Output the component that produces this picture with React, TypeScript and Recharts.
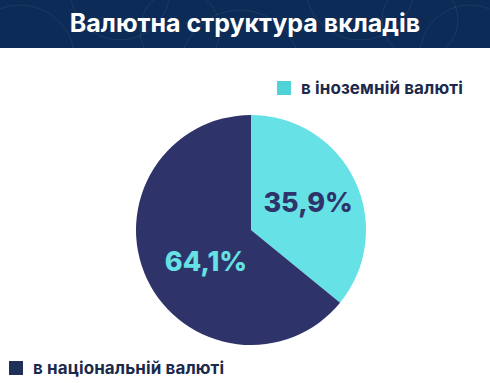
import React from "react";
import { PieChart, Pie, Cell, Legend } from "recharts";

const categories = ["в іноземній валюті", "в національній валюті"];
const shares = [35.9, 64.1];
const shareLabels = ["35,9%", "64,1%"];

const COLORS = ["#66e1e5", "#2e3469"];
const LABEL_COLORS = ["#2e3469", "#66e1e5"];
const LEGEND_COLORS = ["#4fd3d6", "#1f3158"];
const TITLE = "Валютна структура вкладів";

const data = categories.map((name, i) => ({ name, value: shares[i] }));

// label placement per slice: fraction of radius and angle shift (deg)
const labelRadius = [0.55, 0.48];
const labelShift = [0, 10];

const RADIAN = Math.PI / 180;

const renderLabel = (props: any) => {
  const { cx, cy, midAngle, outerRadius, index } = props;
  const r = outerRadius * labelRadius[index];
  const a = (midAngle + labelShift[index]) * RADIAN;
  const x = cx + r * Math.cos(a);
  const y = cy - r * Math.sin(a);
  return (
    <text
      x={x}
      y={y}
      fill={LABEL_COLORS[index]}
      textAnchor="middle"
      dominantBaseline="central"
      fontFamily="Inter, 'Open Sans', sans-serif"
      fontWeight={800}
      fontSize={27}
    >
      {shareLabels[index]}
    </text>
  );
};

const legendPos = [
  { left: 277, top: 81 },
  { left: 9, top: 361 },
];

const renderLegend = (props: any) => {
  const { payload } = props;
  return (
    <div style={{ position: "relative", width: 490, height: 383 }}>
      {(payload || []).map((entry: any, i: number) => {
        const idx = categories.indexOf(entry.value);
        const pos = legendPos[idx];
        return (
          <div
            key={i}
            style={{
              position: "absolute",
              left: pos.left,
              top: pos.top,
              display: "flex",
              alignItems: "center",
              whiteSpace: "nowrap",
            }}
          >
            <span
              style={{
                display: "inline-block",
                width: 14,
                height: 14,
                background: LEGEND_COLORS[idx],
                marginRight: 10,
              }}
            />
            <span
              style={{
                fontFamily: "Inter, 'Open Sans', sans-serif",
                fontWeight: 700,
                fontSize: 17,
                letterSpacing: 0.1,
                color: "#1b2a4c",
                lineHeight: "14px",
              }}
            >
              {entry.value}
            </span>
          </div>
        );
      })}
    </div>
  );
};

const HeaderPattern = () => (
  <svg
    width={490}
    height={48}
    style={{ position: "absolute", left: 0, top: 0 }}
  >
    <g fill="none" stroke="rgba(255,255,255,0.07)" strokeWidth={1}>
      <circle cx={20} cy={60} r={55} />
      <circle cx={120} cy={-10} r={50} />
      <circle cx={240} cy={70} r={60} />
      <circle cx={360} cy={-15} r={55} />
      <circle cx={470} cy={55} r={50} />
      <circle cx={180} cy={30} r={40} />
      <circle cx={420} cy={20} r={38} />
    </g>
  </svg>
);

export default function App() {
  return (
    <div
      style={{
        position: "absolute",
        left: 0,
        top: 0,
        width: 490,
        height: 383,
        background: "#ffffff",
        overflow: "hidden",
      }}
    >
      <div
        style={{
          position: "absolute",
          left: 0,
          top: 0,
          width: 490,
          height: 48,
          background: "#0c2b57",
        }}
      >
        <HeaderPattern />
        <div
          style={{
            position: "absolute",
            left: 0,
            top: 0,
            width: 490,
            height: 46,
            lineHeight: "46px",
            textAlign: "center",
            color: "#ffffff",
            fontFamily: "Inter, 'Open Sans', sans-serif",
            fontWeight: 700,
            fontSize: 25,
          }}
        >
          {TITLE}
        </div>
      </div>
      <div style={{ position: "absolute", left: 0, top: 0 }}>
        <PieChart width={490} height={383}>
          <Pie
            data={data}
            dataKey="value"
            nameKey="name"
            cx={246}
            cy={225}
            outerRadius={115}
            startAngle={90}
            endAngle={-270}
            stroke="none"
            label={renderLabel}
            labelLine={false}
            isAnimationActive={false}
          >
            {data.map((d, i) => (
              <Cell key={d.name} fill={COLORS[i]} />
            ))}
          </Pie>
          <Legend
            content={renderLegend}
            wrapperStyle={{ position: "absolute", left: 0, top: 0, width: 490, height: 383 }}
          />
        </PieChart>
      </div>
    </div>
  );
}
